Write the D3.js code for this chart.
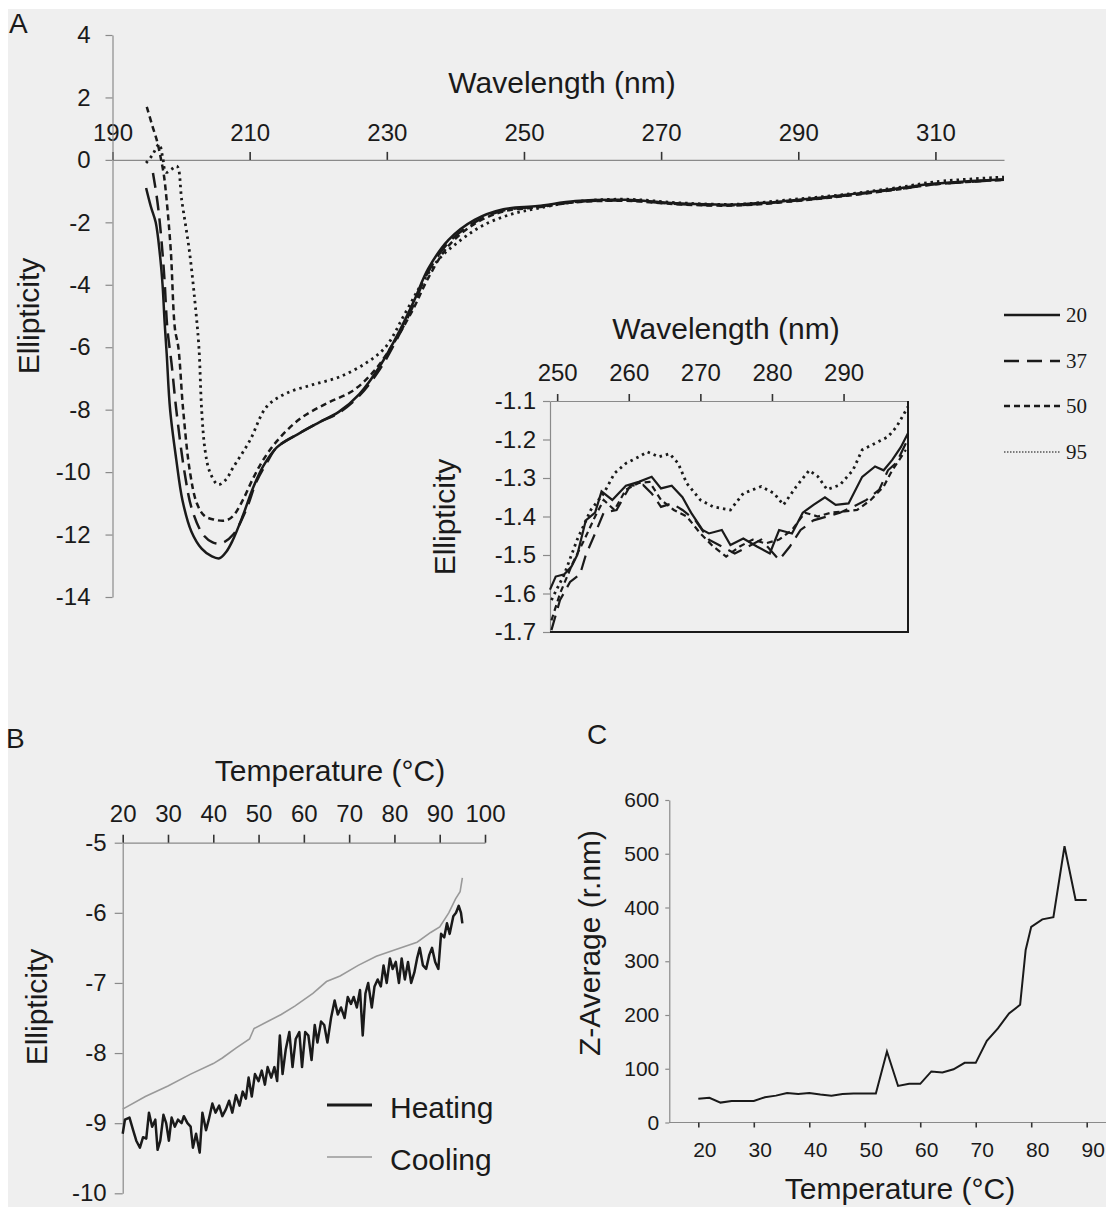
<!DOCTYPE html>
<html>
<head>
<meta charset="utf-8">
<script src="https://cdn.jsdelivr.net/npm/d3@7"></script>
<style>
  body { margin: 0; background: #fff; }
  svg { display: block; font-family: "Liberation Sans", Arial, sans-serif; }
</style>
</head>
<body>
<script>
// ---------- Panel A: far-UV CD spectra (wavelength nm, ellipticity) ----------
var spec20 = [[194.9,-0.9],[195.6,-1.5],[196.3,-2.0],[196.9,-3.0],[197.3,-4.0],[197.6,-5.2],[197.9,-6.2],[198.4,-8.0],[199.3,-9.6],[200.2,-10.9],[201.5,-11.9],[203,-12.45],[204.5,-12.7],[205.6,-12.76],[206.6,-12.55],[207.5,-12.2],[209,-11.4],[210.5,-10.5],[212,-9.8],[214,-9.2],[217.3,-8.75],[220.2,-8.4],[223,-8.07],[226,-7.5],[229,-6.6],[231.8,-5.5],[234,-4.5],[236,-3.5],[239,-2.56],[242.8,-1.92],[247,-1.58],[252,-1.48],[257.5,-1.32],[264.8,-1.28],[273,-1.4],[281,-1.43],[289,-1.3],[297,-1.12],[305,-0.9],[310,-0.76],[320,-0.62]];
var spec37 = [[195.9,-0.42],[196.4,-1.1],[196.8,-1.8],[197.3,-3.0],[197.6,-3.9],[198,-5.4],[198.6,-6.5],[199.3,-8.0],[200.5,-10.0],[201.6,-11.2],[203.2,-12.0],[204.6,-12.25],[205.9,-12.28],[207.6,-12.0],[209.5,-11.2],[211,-10.3],[212.5,-9.7],[214,-9.2],[217.3,-8.75],[220.2,-8.4],[223,-8.1],[226,-7.55],[229,-6.7],[231.8,-5.6],[234,-4.6],[236,-3.6],[239,-2.65],[242.8,-2.0],[247,-1.62],[252,-1.5],[257.5,-1.35],[264.8,-1.3],[273,-1.42],[281,-1.45],[289,-1.32],[297,-1.14],[305,-0.92],[310,-0.78],[320,-0.64]];
var spec50 = [[195,1.7],[195.8,1.1],[196.5,0.6],[197,0.1],[197.5,-0.5],[197.9,-1.3],[198.5,-2.9],[199.1,-5.4],[199.6,-6.0],[200.3,-8.0],[201.3,-10.0],[202.3,-11.0],[203.4,-11.4],[204.8,-11.52],[206.5,-11.55],[207.6,-11.4],[209,-10.9],[210.5,-10.2],[212,-9.6],[214,-9.0],[217.3,-8.3],[221.2,-7.8],[225,-7.4],[228,-6.8],[230.9,-5.9],[233.8,-4.8],[236,-3.8],[239,-2.75],[242.8,-2.05],[247,-1.65],[252,-1.52],[257.5,-1.36],[264.8,-1.31],[273,-1.43],[281,-1.46],[289,-1.33],[297,-1.15],[305,-0.93],[310,-0.78],[320,-0.64]];
var spec95 = [[194.9,-0.1],[195.8,0.15],[196.8,0.5],[197.3,0.1],[197.8,-0.4],[198.6,-0.3],[199.4,-0.2],[200.1,-1.3],[201.2,-2.9],[202,-4.5],[202.6,-6.0],[203,-8.0],[203.5,-9.3],[204.2,-10.0],[205.4,-10.4],[206.5,-10.25],[207.6,-9.85],[210,-9.0],[212.5,-7.9],[215.4,-7.47],[219.2,-7.2],[223.1,-6.95],[227,-6.5],[229.8,-6.0],[232.7,-4.9],[235,-4.0],[237.5,-3.2],[240.6,-2.6],[244,-2.1],[248,-1.75],[252,-1.55],[257.5,-1.34],[264.8,-1.26],[273,-1.38],[281,-1.42],[289,-1.27],[297,-1.1],[305,-0.87],[310,-0.7],[320,-0.55]];

// ---------- Panel A inset: near-UV region ----------
var near20 = [[249,-1.59],[249.8,-1.556],[251,-1.55],[252,-1.53],[252.8,-1.5],[254,-1.41],[255.3,-1.39],[256.2,-1.335],[257.7,-1.357],[259.6,-1.32],[261.4,-1.31],[263.2,-1.297],[264.5,-1.327],[266,-1.32],[267.5,-1.35],[268.7,-1.39],[270.3,-1.435],[271.2,-1.444],[273,-1.435],[274.2,-1.474],[276,-1.457],[277.9,-1.478],[279.7,-1.496],[281,-1.435],[282.8,-1.444],[284.3,-1.39],[285.8,-1.37],[287.4,-1.35],[288.9,-1.37],[290.7,-1.366],[292.6,-1.297],[294.4,-1.27],[295.6,-1.28],[296.8,-1.253],[298,-1.22],[299,-1.184]];
var near37 = [[249.2,-1.695],[250.4,-1.617],[251.8,-1.57],[253.2,-1.55],[254,-1.5],[255.3,-1.444],[256.5,-1.39],[258.3,-1.383],[260.2,-1.32],[262,-1.318],[263.2,-1.34],[264.5,-1.375],[266,-1.366],[267.5,-1.383],[269.3,-1.41],[271.2,-1.46],[273,-1.478],[274.8,-1.496],[276.7,-1.478],[278.5,-1.46],[281,-1.513],[282.5,-1.478],[284,-1.435],[285.8,-1.41],[287.7,-1.4],[289.5,-1.39],[291.3,-1.375],[293.2,-1.357],[295,-1.33],[296.2,-1.28],[297.4,-1.26],[298.7,-1.21]];
var near50 = [[249.2,-1.67],[250.4,-1.6],[252.2,-1.52],[253.8,-1.46],[255.3,-1.4],[256.5,-1.357],[258,-1.383],[259.6,-1.33],[261.4,-1.313],[262.9,-1.31],[264.5,-1.357],[266.3,-1.383],[268.1,-1.4],[270,-1.444],[271.8,-1.478],[273.6,-1.504],[275.5,-1.478],[277.3,-1.46],[279.1,-1.47],[281,-1.46],[282.8,-1.435],[284.6,-1.39],[286.4,-1.4],[288.3,-1.39],[290.1,-1.387],[291.9,-1.383],[293.8,-1.357],[295.6,-1.322],[296.8,-1.28],[298.7,-1.227]];
var near95 = [[249.2,-1.617],[251,-1.55],[252.8,-1.46],[254.7,-1.383],[256.5,-1.34],[258,-1.288],[259.6,-1.262],[261.4,-1.245],[262.6,-1.232],[264.2,-1.245],[265.7,-1.237],[266.9,-1.262],[268.1,-1.314],[270,-1.357],[271.8,-1.375],[274.2,-1.383],[276,-1.34],[278.5,-1.322],[280.3,-1.34],[281.6,-1.37],[283.4,-1.322],[285.2,-1.28],[286.4,-1.296],[287.7,-1.33],[289.5,-1.318],[291.3,-1.28],[292.6,-1.227],[294.4,-1.21],[296.2,-1.193],[297.4,-1.167],[299,-1.115]];

var specLabels = ["20", "37", "50", "95"];
var specTicksX = [190, 210, 230, 250, 270, 290, 310];
var specTicksY = [-14, -12, -10, -8, -6, -4, -2, 0, 2, 4];
var nearTicksX = [250, 260, 270, 280, 290];
var nearTicksY = [-1.7, -1.6, -1.5, -1.4, -1.3, -1.2, -1.1];

// ---------- Panel B: thermal melt (temperature C, ellipticity) ----------
var heatT = [20,20.5,21.5,22.3,23,23.8,24.5,25.2,25.8,26.5,27.2,27.7,28.3,29,29.6,30.2,30.8,31.5,32.2,33,33.5,34.3,35,35.5,36.2,37,37.6,38.4,39,39.8,40.5,41.3,42,42.8,43.5,44.2,45,45.8,46.5,47.2,47.8,48.5,49.2,50,50.7,51.4,52,52.8,53.5,54.1,54.7,55.3,56,56.8,57.5,58.2,59,59.6,60.3,61,61.7,62.4,63,63.8,64.5,65.2,66,66.8,67.5,68.2,69,69.7,70.4,71,71.7,72.4,73,73.6,74.2,75,75.6,76.3,77,77.6,78.3,79,79.6,80.3,81,81.6,82.3,83,83.7,84.4,85,85.6,86.3,87,87.7,88.3,89,89.7,90.3,91,91.6,92.2,93,93.6,94.2,94.7,95];
var heatE = [-9.15,-8.95,-8.92,-9.1,-9.25,-9.35,-9.2,-9.22,-8.85,-9.05,-8.95,-9.38,-9.25,-8.88,-9.0,-9.25,-8.92,-9.05,-8.95,-9.0,-8.9,-9.0,-9.05,-9.35,-9.15,-9.42,-8.85,-9.1,-8.95,-8.72,-8.85,-8.75,-8.9,-8.8,-8.68,-8.85,-8.6,-8.75,-8.55,-8.65,-8.35,-8.62,-8.3,-8.4,-8.25,-8.45,-8.2,-8.35,-8.2,-8.4,-7.75,-8.3,-7.95,-7.7,-8.2,-7.8,-7.7,-8.2,-7.7,-7.75,-8.1,-7.6,-7.85,-7.55,-7.6,-7.85,-7.5,-7.25,-7.45,-7.35,-7.5,-7.2,-7.3,-7.2,-7.35,-7.1,-7.75,-7.15,-7.0,-7.35,-7.05,-6.95,-7.05,-6.75,-7.0,-6.65,-6.8,-6.7,-7.0,-6.65,-6.95,-6.7,-7.0,-6.85,-6.65,-6.5,-6.75,-6.8,-6.6,-6.5,-6.7,-6.8,-6.3,-6.35,-6.15,-6.3,-6.05,-6.0,-5.9,-6.0,-6.15];
var coolT = [20,25,30,35,40,42,45,48,49,52,55,58,62,65,68,72,76,80,85,88,90,92,93.5,94.5,95];
var coolE = [-8.8,-8.62,-8.47,-8.3,-8.15,-8.07,-7.93,-7.8,-7.65,-7.55,-7.45,-7.33,-7.15,-6.98,-6.9,-6.75,-6.62,-6.53,-6.42,-6.28,-6.2,-6.0,-5.8,-5.7,-5.5];
var meltTicksX = [20, 30, 40, 50, 60, 70, 80, 90, 100];
var meltTicksY = [-10, -9, -8, -7, -6, -5];

// ---------- Panel C: DLS size (temperature C, Z-average r.nm) ----------
var dlsT = [20,22,24,26,28,30,32,34,36,38,40,42,44,46,48,50,52,54,56,58,60,62,64,66,68,70,72,74,76,78,79,80,82,84,86,88,90];
var dlsZ = [44,46,37,40,40,40,47,50,55,53,55,52,50,53,54,54,54,132,68,72,72,95,93,99,111,111,152,175,203,219,321,364,378,382,514,414,414];
var dlsTicksX = [20, 30, 40, 50, 60, 70, 80, 90];
var dlsTicksY = [0, 100, 200, 300, 400, 500, 600];

var width = 1106,
  height = 1207,
  ink = "#1a1a1a",
  axisGray = "#8a8a8a",
  sans = "'Liberation Sans', Arial, sans-serif",
  serif = "'Liberation Serif', 'Times New Roman', serif";

// plain hyphen minus, as in the original figure
var plain = (d) => String(d);
var oneDec = (d) => d.toFixed(1);

var svg = d3
  .select("body")
  .append("svg")
  .attr("width", width)
  .attr("height", height);

// scanned page background
svg
  .append("rect")
  .attr("x", 8)
  .attr("y", 9)
  .attr("width", width - 8)
  .attr("height", height - 9)
  .attr("fill", "#efefef");

function styleAxis(g, size) {
  g.attr("font-family", sans).attr("font-size", size);
  g.select(".domain").attr("stroke", axisGray).attr("stroke-width", 1.2);
  g.selectAll(".tick line").attr("stroke", "#333").attr("stroke-width", 1.6);
  g.selectAll(".tick text").attr("fill", ink);
}

function panelLetter(txt, x, y) {
  svg
    .append("text")
    .attr("x", x)
    .attr("y", y)
    .attr("font-family", sans)
    .attr("font-size", 28)
    .attr("fill", ink)
    .text(txt);
}

function title(txt, x, y, size, rotate) {
  svg
    .append("text")
    .attr("transform", `translate(${x},${y})` + (rotate ? " rotate(-90)" : ""))
    .attr("text-anchor", "middle")
    .attr("font-family", sans)
    .attr("font-size", size)
    .attr("fill", ink)
    .text(txt);
}

// ================= Panel A =================
var xA = d3.scaleLinear().domain([190, 320]).range([112.5, 1004]);
var yA = d3.scaleLinear().domain([-14, 4]).range([597, 35]);

svg
  .append("g")
  .attr("transform", `translate(0,${yA(0)})`)
  .call(
    d3.axisTop(xA).tickValues(specTicksX).tickFormat(plain).tickSize(8).tickPadding(11).tickSizeOuter(0)
  )
  .call((g) => styleAxis(g, 24));

svg
  .append("g")
  .attr("transform", `translate(${xA(190)},0)`)
  .call(
    d3.axisLeft(yA).tickValues(specTicksY).tickFormat(plain).tickSize(7).tickPadding(15).tickSizeOuter(0)
  )
  .call((g) => styleAxis(g, 24))
  .call((g) => g.selectAll(".tick line").attr("stroke", axisGray).attr("stroke-width", 1.2));

panelLetter("A", 9, 33);
title("Wavelength (nm)", 562, 93, 30);
title("Ellipticity", 39, 316, 30, true);

var dashes = { "20": null, "37": "15,8", "50": "6,4", "95": "2.5,4" };
var specSeries = [spec20, spec37, spec50, spec95];

var lineA = d3
  .line()
  .x((d) => xA(d[0]))
  .y((d) => yA(d[1]))
  .curve(d3.curveCatmullRom.alpha(0.5));

svg
  .append("g")
  .selectAll("path")
  .data(specSeries)
  .enter()
  .append("path")
  .attr("d", lineA)
  .attr("fill", "none")
  .attr("stroke", ink)
  .attr("stroke-width", (d, i) => (i == 3 ? 2.8 : 2.5))
  .attr("stroke-dasharray", (d, i) => dashes[specLabels[i]]);

// legend
var legend = svg.append("g").attr("transform", "translate(1004,0)");
var legendY = [315, 361, 406, 452];
legend
  .selectAll("line")
  .data(specLabels)
  .enter()
  .append("line")
  .attr("x1", 0)
  .attr("x2", 56)
  .attr("y1", (d, i) => legendY[i])
  .attr("y2", (d, i) => legendY[i])
  .attr("stroke", (d) => (d == "95" ? "#555" : ink))
  .attr("stroke-width", (d) => (d == "95" ? 1.6 : 2.4))
  .attr("stroke-dasharray", (d) => (d == "95" ? "1.5,1.5" : dashes[d]));
legend
  .selectAll("text")
  .data(specLabels)
  .enter()
  .append("text")
  .attr("x", 62)
  .attr("y", (d, i) => legendY[i])
  .attr("dy", "0.35em")
  .attr("font-family", serif)
  .attr("font-size", 21)
  .attr("fill", ink)
  .text((d) => d);

// ---- inset ----
var xI = d3.scaleLinear().domain([249, 299]).range([550, 908]);
var yI = d3.scaleLinear().domain([-1.7, -1.1]).range([632, 401]);

svg
  .append("g")
  .attr("transform", `translate(0,${yI(-1.1)})`)
  .call(d3.axisTop(xI).tickValues(nearTicksX).tickFormat(plain).tickSize(7).tickPadding(13).tickSizeOuter(0))
  .call((g) => styleAxis(g, 24));

svg
  .append("g")
  .attr("transform", `translate(${xI(249)},0)`)
  .call(
    d3.axisLeft(yI).tickValues(nearTicksY).tickSize(7).tickPadding(7).tickSizeOuter(0).tickFormat(oneDec)
  )
  .call((g) => styleAxis(g, 24))
  .call((g) => g.selectAll(".tick line").attr("stroke", axisGray).attr("stroke-width", 1.2));

// right and bottom frame of the inset plot area
svg
  .append("path")
  .attr("d", `M${xI(299)},${yI(-1.1)}V${yI(-1.7)}H${xI(249)}`)
  .attr("fill", "none")
  .attr("stroke", ink)
  .attr("stroke-width", 2);

title("Wavelength (nm)", 726, 339, 30);
title("Ellipticity", 455, 517, 30, true);

var lineI = d3
  .line()
  .x((d) => xI(d[0]))
  .y((d) => yI(d[1]));

svg
  .append("g")
  .selectAll("path")
  .data([near20, near37, near50, near95])
  .enter()
  .append("path")
  .attr("d", lineI)
  .attr("fill", "none")
  .attr("stroke", ink)
  .attr("stroke-width", (d, i) => (i == 3 ? 2.8 : 2.2))
  .attr("stroke-dasharray", (d, i) => dashes[specLabels[i]]);

// ================= Panel B =================
var xB = d3.scaleLinear().domain([20, 100]).range([122.7, 485]);
var yB = d3.scaleLinear().domain([-10, -5]).range([1193.3, 842.7]);

svg
  .append("g")
  .attr("transform", `translate(0,${yB(-5)})`)
  .call(d3.axisTop(xB).tickValues(meltTicksX).tickFormat(plain).tickSize(8).tickPadding(13).tickSizeOuter(0))
  .call((g) => styleAxis(g, 24));

svg
  .append("g")
  .attr("transform", `translate(${xB(20)},0)`)
  .call(d3.axisLeft(yB).tickValues(meltTicksY).tickFormat(plain).tickSize(8).tickPadding(8).tickSizeOuter(0))
  .call((g) => styleAxis(g, 24))
  .call((g) => g.selectAll(".tick line").attr("stroke", axisGray).attr("stroke-width", 1.2));

panelLetter("B", 6, 748);
title("Temperature (°C)", 330, 781, 30);
title("Ellipticity", 47, 1007, 30, true);

var lineB = d3
  .line()
  .x((d) => xB(d[0]))
  .y((d) => yB(d[1]));

svg
  .append("path")
  .datum(d3.zip(coolT, coolE))
  .attr("d", lineB)
  .attr("fill", "none")
  .attr("stroke", "#999")
  .attr("stroke-width", 1.6);

svg
  .append("path")
  .datum(d3.zip(heatT, heatE))
  .attr("d", lineB)
  .attr("fill", "none")
  .attr("stroke", ink)
  .attr("stroke-width", 2.5)
  .attr("stroke-linejoin", "round");

var legendB = [
  { name: "Heating", color: ink, w: 2.8, y: 1105 },
  { name: "Cooling", color: "#999", w: 1.6, y: 1157 }
];
svg
  .append("g")
  .selectAll("line")
  .data(legendB)
  .enter()
  .append("line")
  .attr("x1", 327)
  .attr("x2", 372)
  .attr("y1", (d) => d.y)
  .attr("y2", (d) => d.y)
  .attr("stroke", (d) => d.color)
  .attr("stroke-width", (d) => d.w);
svg
  .append("g")
  .selectAll("text")
  .data(legendB)
  .enter()
  .append("text")
  .attr("x", 390)
  .attr("y", (d) => d.y + 2)
  .attr("dy", "0.35em")
  .attr("font-family", sans)
  .attr("font-size", 30)
  .attr("fill", ink)
  .text((d) => d.name);

// ================= Panel C =================
var xC = d3.scaleLinear().domain([20, 90]).range([698.3, 1086.7]);
var yC = d3.scaleLinear().domain([0, 600]).range([1122.5, 800]);

var gxC = svg
  .append("g")
  .attr("transform", `translate(0,${yC(0)})`)
  .call(d3.axisBottom(xC).tickValues(dlsTicksX).tickFormat(plain).tickSize(5).tickPadding(15).tickSizeOuter(0))
  .call((g) => styleAxis(g, 21));
gxC.select(".domain").attr("d", `M${xC(14.77)},0H${xC(93.5)}`);
gxC.selectAll(".tick text").attr("dx", 6);

svg
  .append("g")
  .attr("transform", `translate(${xC(14.77)},0)`)
  .call(d3.axisLeft(yC).tickValues(dlsTicksY).tickFormat(plain).tickSize(4).tickPadding(6).tickSizeOuter(0))
  .call((g) => styleAxis(g, 21))
  .call((g) => g.selectAll(".tick line").attr("stroke", axisGray).attr("stroke-width", 1.2));

panelLetter("C", 587, 744);
title("Temperature (°C)", 900, 1199, 30);
title("Z-Average (r.nm)", 600, 943, 30, true);

svg
  .append("path")
  .datum(d3.zip(dlsT, dlsZ))
  .attr("d", d3.line().x((d) => xC(d[0])).y((d) => yC(d[1])))
  .attr("fill", "none")
  .attr("stroke", ink)
  .attr("stroke-width", 2);
</script>
</body>
</html>
